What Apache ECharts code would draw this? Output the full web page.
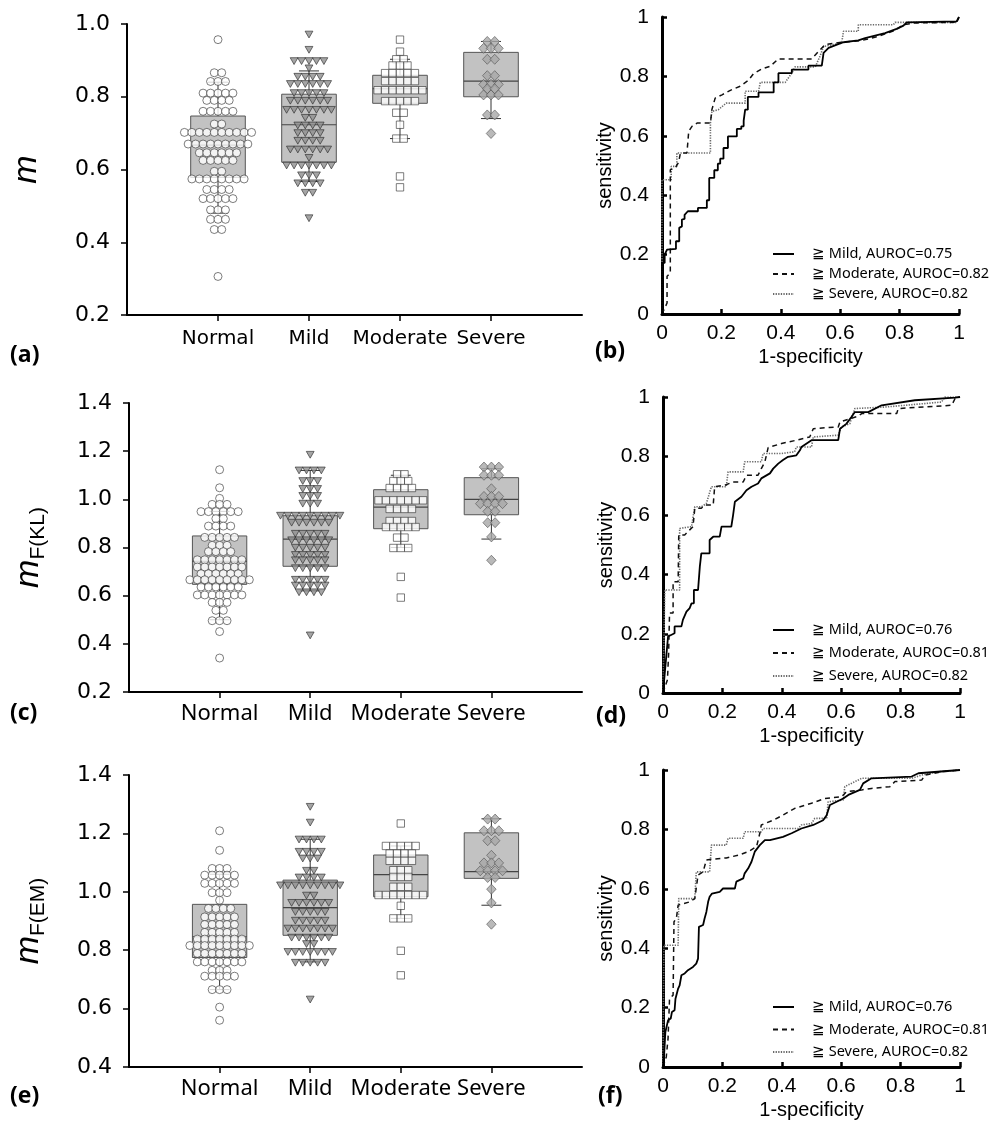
<!DOCTYPE html>
<html><head><meta charset="utf-8">
<script src="https://cdn.jsdelivr.net/npm/echarts@6/dist/echarts.min.js"></script>
<style>html,body{margin:0;padding:0;background:#fff}#c{width:990px;height:1124px}</style>
</head><body><div id="c"></div><script>
// ---------------- DATA ----------------
const groups = ['Normal', 'Mild', 'Moderate', 'Severe'];

// dot rows: [value, number of subjects at that value]
// panel (a): m
const aNormal = [[0.957,1],[0.866,2],[0.842,3],[0.810,5],[0.790,4],[0.760,5],[0.725,2],[0.702,10],[0.670,9],[0.646,6],[0.625,5],[0.595,2],[0.574,8],[0.545,4],[0.520,5],[0.489,3],[0.463,3],[0.435,2],[0.306,1]];
const aMild = [[0.971,1],[0.929,1],[0.898,5],[0.878,1],[0.855,4],[0.835,6],[0.810,5],[0.789,6],[0.764,7],[0.742,2],[0.721,4],[0.700,4],[0.679,4],[0.655,6],[0.632,1],[0.611,7],[0.584,3],[0.562,4],[0.536,2],[0.466,1]];
const aModerate = [[0.957,1],[0.924,1],[0.903,2],[0.886,3],[0.865,5],[0.843,5],[0.818,7],[0.788,5],[0.756,2],[0.723,1],[0.685,2],[0.581,1],[0.551,1]];
const aSevere = [[0.952,2],[0.933,3],[0.903,2],[0.858,2],[0.834,3],[0.822,2],[0.805,3],[0.750,2],[0.699,1]];
// box stats: [low whisker, Q1, median, Q3, high whisker]
const aBox = [[0.48,0.578,0.667,0.747,0.84],[0.567,0.620,0.723,0.807,0.871],[0.685,0.782,0.822,0.859,0.903],[0.740,0.800,0.843,0.922,0.952]];

// panel (c): mF(KL)
const cNormal = [[1.123,1],[1.048,1],[1.004,1],[0.979,3],[0.949,6],[0.920,2],[0.889,4],[0.842,5],[0.809,3],[0.783,4],[0.749,7],[0.719,7],[0.691,6],[0.666,9],[0.636,6],[0.603,7],[0.572,3],[0.539,2],[0.496,3],[0.451,1],[0.341,1]];
const cMild = [[1.185,1],[1.120,4],[1.076,3],[1.043,3],[1.014,3],[0.982,3],[0.932,9],[0.903,6],[0.857,5],[0.830,6],[0.799,5],[0.769,5],[0.747,5],[0.714,5],[0.666,5],[0.642,5],[0.614,4],[0.435,1]];
const cModerate = [[1.104,2],[1.076,3],[1.047,4],[0.996,7],[0.960,4],[0.910,4],[0.885,5],[0.841,2],[0.798,3],[0.678,1],[0.592,1]];
const cSevere = [[1.134,3],[1.100,3],[1.044,1],[1.012,3],[0.982,4],[0.950,2],[0.903,2],[0.844,1],[0.747,1]];
const cBox = [[0.50,0.647,0.742,0.848,0.95],[0.62,0.722,0.835,0.932,1.12],[0.80,0.878,0.968,1.040,1.10],[0.835,0.936,1.000,1.090,1.127]];

// panel (e): mF(EM)
const eNormal = [[1.209,1],[1.142,1],[1.080,3],[1.057,5],[1.029,5],[0.997,3],[0.971,1],[0.943,4],[0.914,5],[0.888,5],[0.861,5],[0.838,7],[0.816,9],[0.789,7],[0.760,7],[0.731,3],[0.711,5],[0.665,3],[0.605,1],[0.560,1]];
const eMild = [[1.291,1],[1.237,1],[1.179,4],[1.137,4],[1.114,3],[1.072,2],[1.049,4],[1.022,9],[0.987,2],[0.962,6],[0.931,5],[0.901,5],[0.874,7],[0.843,6],[0.821,2],[0.794,7],[0.757,5],[0.631,1]];
const eModerate = [[1.234,1],[1.157,5],[1.131,4],[1.106,4],[1.074,3],[1.051,3],[1.017,3],[0.989,7],[0.952,1],[0.909,3],[0.798,1],[0.714,1]];
const eSevere = [[1.249,2],[1.209,3],[1.175,2],[1.125,1],[1.099,3],[1.072,4],[1.049,2],[1.009,1],[0.962,1],[0.889,1]];
const eBox = [[0.665,0.775,0.846,0.957,1.06],[0.76,0.851,0.946,1.040,1.18],[0.909,0.983,1.059,1.126,1.157],[0.954,1.046,1.069,1.202,1.25]];

// ROC curves [1-specificity, sensitivity]
const bMild = [[0,0],[0,0.172],[0.009,0.172],[0.009,0.2],[0.017,0.217],[0.047,0.219],[0.047,0.245],[0.058,0.245],[0.058,0.29],[0.067,0.295],[0.067,0.318],[0.076,0.32],[0.076,0.334],[0.087,0.346],[0.121,0.346],[0.121,0.357],[0.151,0.357],[0.151,0.383],[0.159,0.383],[0.159,0.458],[0.176,0.458],[0.176,0.484],[0.188,0.484],[0.188,0.506],[0.196,0.506],[0.196,0.523],[0.207,0.523],[0.207,0.559],[0.222,0.559],[0.222,0.598],[0.252,0.598],[0.252,0.623],[0.267,0.623],[0.267,0.632],[0.275,0.632],[0.275,0.651],[0.28,0.651],[0.28,0.688],[0.289,0.688],[0.289,0.731],[0.325,0.731],[0.325,0.746],[0.376,0.746],[0.376,0.78],[0.392,0.78],[0.392,0.811],[0.437,0.811],[0.437,0.823],[0.493,0.823],[0.493,0.836],[0.538,0.836],[0.544,0.879],[0.561,0.896],[0.589,0.907],[0.611,0.915],[0.661,0.921],[0.684,0.929],[0.751,0.946],[0.79,0.96],[0.813,0.971],[0.824,0.982],[0.992,0.985],[1,1]];
const bModerate = [[0,0],[0.017,0.037],[0.017,0.127],[0.028,0.138],[0.028,0.486],[0.045,0.492],[0.056,0.511],[0.062,0.542],[0.084,0.542],[0.09,0.615],[0.101,0.632],[0.118,0.643],[0.163,0.643],[0.168,0.688],[0.179,0.727],[0.202,0.738],[0.23,0.753],[0.263,0.767],[0.291,0.787],[0.308,0.809],[0.336,0.825],[0.364,0.834],[0.392,0.859],[0.504,0.859],[0.527,0.884],[0.549,0.907],[0.605,0.915],[0.673,0.921],[0.729,0.935],[0.785,0.955],[0.813,0.974],[0.852,0.98],[0.992,0.982],[1,1]];
const bSevere = [[0,0],[0,0.452],[0.031,0.452],[0.031,0.497],[0.05,0.497],[0.05,0.542],[0.163,0.542],[0.163,0.643],[0.168,0.682],[0.19,0.688],[0.216,0.71],[0.28,0.71],[0.28,0.75],[0.325,0.75],[0.331,0.78],[0.415,0.78],[0.437,0.811],[0.448,0.832],[0.516,0.832],[0.532,0.868],[0.544,0.901],[0.605,0.912],[0.611,0.952],[0.661,0.952],[0.661,0.974],[0.779,0.974],[0.785,0.982],[0.992,0.982],[1,1]];

const dMild = [[0,0],[0.011,0.124],[0.017,0.191],[0.039,0.202],[0.039,0.225],[0.062,0.225],[0.067,0.247],[0.079,0.275],[0.09,0.287],[0.096,0.303],[0.104,0.303],[0.104,0.348],[0.118,0.348],[0.124,0.427],[0.129,0.472],[0.157,0.472],[0.157,0.517],[0.169,0.528],[0.191,0.528],[0.197,0.562],[0.23,0.562],[0.236,0.601],[0.242,0.646],[0.264,0.663],[0.281,0.685],[0.298,0.697],[0.32,0.708],[0.331,0.725],[0.36,0.742],[0.371,0.758],[0.388,0.775],[0.404,0.787],[0.421,0.798],[0.449,0.803],[0.461,0.82],[0.466,0.831],[0.5,0.854],[0.59,0.854],[0.596,0.893],[0.618,0.91],[0.635,0.933],[0.646,0.949],[0.691,0.949],[0.736,0.972],[0.848,0.989],[0.983,0.998],[1,1]];
const dModerate = [[0,0],[0.015,0.045],[0.019,0.135],[0.022,0.27],[0.034,0.27],[0.034,0.376],[0.051,0.376],[0.053,0.534],[0.073,0.534],[0.09,0.551],[0.101,0.562],[0.107,0.624],[0.129,0.624],[0.14,0.635],[0.169,0.635],[0.174,0.697],[0.208,0.702],[0.236,0.713],[0.27,0.713],[0.281,0.736],[0.32,0.736],[0.331,0.758],[0.343,0.781],[0.354,0.829],[0.399,0.843],[0.449,0.854],[0.494,0.865],[0.506,0.893],[0.59,0.899],[0.596,0.916],[0.657,0.935],[0.669,0.944],[0.787,0.944],[0.792,0.961],[0.972,0.972],[0.983,0.994],[1,1]];
const dSevere = [[0,0],[0.006,0.348],[0.056,0.348],[0.056,0.556],[0.096,0.562],[0.107,0.629],[0.129,0.629],[0.146,0.64],[0.163,0.697],[0.213,0.697],[0.219,0.747],[0.27,0.747],[0.275,0.781],[0.331,0.781],[0.337,0.809],[0.399,0.809],[0.443,0.815],[0.449,0.831],[0.5,0.831],[0.506,0.865],[0.59,0.871],[0.601,0.899],[0.629,0.91],[0.646,0.961],[0.747,0.966],[0.815,0.972],[0.938,0.983],[0.949,1],[1,1]];

const fMild = [[0,0],[0.003,0.028],[0.008,0.118],[0.017,0.157],[0.026,0.163],[0.03,0.185],[0.039,0.191],[0.042,0.23],[0.051,0.264],[0.056,0.275],[0.062,0.309],[0.073,0.315],[0.084,0.326],[0.101,0.337],[0.112,0.348],[0.118,0.365],[0.121,0.472],[0.135,0.478],[0.14,0.5],[0.146,0.522],[0.152,0.556],[0.157,0.573],[0.165,0.584],[0.191,0.59],[0.202,0.601],[0.242,0.601],[0.247,0.624],[0.27,0.635],[0.275,0.652],[0.287,0.669],[0.298,0.691],[0.309,0.725],[0.326,0.747],[0.343,0.764],[0.36,0.764],[0.404,0.775],[0.433,0.787],[0.466,0.803],[0.506,0.815],[0.539,0.831],[0.551,0.848],[0.562,0.882],[0.607,0.904],[0.624,0.916],[0.663,0.933],[0.674,0.955],[0.702,0.972],[0.837,0.978],[0.86,0.989],[1,1]];
const fModerate = [[0,0],[0.011,0.034],[0.017,0.096],[0.022,0.23],[0.034,0.242],[0.037,0.489],[0.045,0.5],[0.051,0.545],[0.09,0.556],[0.107,0.567],[0.118,0.646],[0.135,0.657],[0.146,0.697],[0.169,0.7],[0.213,0.704],[0.253,0.713],[0.287,0.725],[0.315,0.742],[0.326,0.787],[0.331,0.815],[0.371,0.831],[0.404,0.848],[0.444,0.871],[0.5,0.888],[0.545,0.904],[0.601,0.91],[0.618,0.927],[0.669,0.933],[0.702,0.938],[0.764,0.944],[0.781,0.961],[0.871,0.966],[0.882,0.983],[0.938,0.994],[1,1]];
const fSevere = [[0,0],[0.003,0.41],[0.051,0.41],[0.053,0.567],[0.107,0.567],[0.112,0.657],[0.157,0.657],[0.163,0.747],[0.213,0.747],[0.219,0.77],[0.27,0.77],[0.275,0.792],[0.331,0.792],[0.337,0.803],[0.455,0.803],[0.466,0.815],[0.5,0.82],[0.511,0.837],[0.551,0.837],[0.556,0.893],[0.607,0.899],[0.612,0.944],[0.669,0.972],[0.837,0.972],[0.871,0.983],[0.927,0.994],[1,1]];

const bNames = ['≧ Mild, AUROC=0.75', '≧ Moderate, AUROC=0.82', '≧ Severe, AUROC=0.82'];
const dNames = ['≧ Mild, AUROC=0.76', '≧ Moderate, AUROC=0.81', '≧ Severe, AUROC=0.82'];
const fNames = ['≧ Mild, AUROC=0.76', '≧ Moderate, AUROC=0.81', '≧ Severe, AUROC=0.82'];

// ---------------- BUILD ----------------
const chart = echarts.init(document.getElementById('c'), null, {renderer: 'canvas'});
const SP = 0.082; // horizontal spacing between dots in a row (axis units)
function swarm(rows, cat) {
  const pts = [];
  rows.forEach(([v, n]) => { for (let i = 0; i < n; i++) pts.push([cat + (i - (n - 1) / 2) * SP, v]); });
  return pts;
}
const markerStyles = [
  {symbol: 'circle', symbolSize: 8, symbolRotate: 0, itemStyle: {color: '#fff', borderColor: '#333', borderWidth: 0.8}},
  {symbol: 'triangle', symbolSize: [7.8, 6.8], symbolRotate: 180, itemStyle: {color: '#8f8f8f', borderColor: '#2a2a2a', borderWidth: 0.8}},
  {symbol: 'rect', symbolSize: 7.4, symbolRotate: 0, itemStyle: {color: '#fff', borderColor: '#333', borderWidth: 0.8}},
  {symbol: 'diamond', symbolSize: [9.5, 10], symbolRotate: 0, itemStyle: {color: '#a8a8a8', borderColor: '#555', borderWidth: 0.8}}
];

const grids = [
  {left: 127, top: 24, width: 455, height: 291},
  {left: 662, top: 17, width: 297, height: 297},
  {left: 129, top: 403, width: 453, height: 289},
  {left: 663, top: 397, width: 297, height: 296},
  {left: 129, top: 775, width: 453, height: 292},
  {left: 663, top: 770, width: 297, height: 297}
];

const xAxes = [], yAxes = [], series = [];

function boxPanel(gi, yMin, yMax, nameRich, catFont, catSize, catMargin, rows, boxes, nameGap) {
  xAxes.push({
    gridIndex: gi, type: 'value', min: 0, max: 5, interval: 1,
    axisLine: {show: true, onZero: false, lineStyle: {color: '#000', width: 2}},
    axisTick: {show: true, customValues: [1, 2, 3, 4], length: 6, lineStyle: {color: '#000', width: 1.5}},
    axisLabel: {customValues: [1, 2, 3, 4], formatter: v => groups[Math.round(v) - 1] || '', color: '#000', fontFamily: catFont, fontSize: catSize, margin: catMargin},
    splitLine: {show: false}
  });
  yAxes.push({
    gridIndex: gi, type: 'value', min: yMin, max: yMax, interval: 0.2,
    axisLine: {show: true, onZero: false, lineStyle: {color: '#000', width: 2}},
    axisTick: {show: true, length: 6, lineStyle: {color: '#000', width: 1.5}},
    axisLabel: {formatter: v => v.toFixed(1), color: '#000', fontFamily: 'DejaVu Sans', fontSize: 22, margin: 17},
    splitLine: {show: false},
    name: nameRich, nameLocation: 'middle', nameGap: nameGap,
    nameTextStyle: {color: '#000', rich: {
      m: {fontSize: 34, fontStyle: 'italic', fontFamily: 'Liberation Sans', lineHeight: 40, color: '#000'},
      s: {fontSize: 21, fontFamily: 'Liberation Sans', lineHeight: 22, verticalAlign: 'bottom', color: '#000'}
    }}
  });
  series.push({
    type: 'custom', xAxisIndex: gi, yAxisIndex: gi, z: 1, silent: true, clip: false,
    data: boxes.map((b, i) => [i + 1].concat(b)),
    encode: {x: 0, y: [1, 2, 3, 4, 5]},
    renderItem: (params, api) => {
      const x = api.value(0);
      const pLo = api.coord([x, api.value(1)]), pQ1 = api.coord([x, api.value(2)]);
      const pMd = api.coord([x, api.value(3)]), pQ3 = api.coord([x, api.value(4)]);
      const pHi = api.coord([x, api.value(5)]);
      const w = api.size([0.6, 0])[0], cw = api.size([0.22, 0])[0], cx = pLo[0];
      const ls = {stroke: '#333', lineWidth: 1};
      return {type: 'group', children: [
        {type: 'line', shape: {x1: cx, y1: pLo[1], x2: cx, y2: pQ1[1]}, style: ls},
        {type: 'line', shape: {x1: cx, y1: pQ3[1], x2: cx, y2: pHi[1]}, style: ls},
        {type: 'line', shape: {x1: cx - cw / 2, y1: pLo[1], x2: cx + cw / 2, y2: pLo[1]}, style: ls},
        {type: 'line', shape: {x1: cx - cw / 2, y1: pHi[1], x2: cx + cw / 2, y2: pHi[1]}, style: ls},
        {type: 'rect', shape: {x: cx - w / 2, y: pQ3[1], width: w, height: pQ1[1] - pQ3[1]}, style: {fill: '#c2c2c2', stroke: '#555', lineWidth: 1}},
        {type: 'line', shape: {x1: cx - w / 2, y1: pMd[1], x2: cx + w / 2, y2: pMd[1]}, style: {stroke: '#444', lineWidth: 1.2}}
      ]};
    }
  });
  rows.forEach((r, k) => {
    const ms = markerStyles[k];
    series.push(Object.assign({
      type: 'scatter', xAxisIndex: gi, yAxisIndex: gi, z: 3, silent: true,
      data: swarm(r, k + 1), emphasis: {disabled: true}
    }, ms));
  });
}

function rocPanel(gi, curves, names) {
  xAxes.push({
    gridIndex: gi, type: 'value', min: 0, max: 1, interval: 0.2,
    axisLine: {show: true, onZero: false, lineStyle: {color: '#000', width: 3}},
    axisTick: {show: true, inside: true, length: 5, lineStyle: {color: '#000', width: 2.5}},
    axisLabel: {color: '#000', fontFamily: 'Liberation Sans', fontSize: 21, margin: 9},
    splitLine: {show: false},
    name: '1-specificity', nameLocation: 'middle', nameGap: 33,
    nameTextStyle: {color: '#000', fontFamily: 'Liberation Sans', fontSize: 20}
  });
  yAxes.push({
    gridIndex: gi, type: 'value', min: 0, max: 1, interval: 0.2,
    axisLine: {show: true, onZero: false, lineStyle: {color: '#000', width: 3}},
    axisTick: {show: true, inside: true, length: 5, lineStyle: {color: '#000', width: 2.5}},
    axisLabel: {color: '#000', fontFamily: 'Liberation Sans', fontSize: 21, margin: 13},
    splitLine: {show: false},
    name: 'sensitivity', nameLocation: 'middle', nameGap: 32,
    nameTextStyle: {color: '#000', fontFamily: 'Liberation Sans', fontSize: 20}
  });
  const styles = [
    {color: '#000', width: 1.8, type: 'solid'},
    {color: '#111', width: 1.5, type: [5, 4]},
    {color: '#6a6a6a', width: 1.6, type: [1.3, 1.3]}
  ];
  curves.forEach((c, k) => {
    series.push({
      type: 'line', name: names[k], xAxisIndex: gi, yAxisIndex: gi, data: c,
      symbol: 'none', showSymbol: false, silent: true, z: 2 + (2 - k),
      lineStyle: styles[k], itemStyle: {color: styles[k].color}, emphasis: {disabled: true}
    });
  });
}

boxPanel(0, 0.2, 1.0, '{m|m}', 'DejaVu Sans', 20, 14, [aNormal, aMild, aModerate, aSevere], aBox, 80);
rocPanel(1, [bMild, bModerate, bSevere], bNames);
boxPanel(2, 0.2, 1.4, '{m|m}{s|F(KL)}', 'Noto Sans', 22, 11, [cNormal, cMild, cModerate, cSevere], cBox, 80);
rocPanel(3, [dMild, dModerate, dSevere], dNames);
boxPanel(4, 0.4, 1.4, '{m|m}{s|F(EM)}', 'Noto Sans', 22, 11, [eNormal, eMild, eModerate, eSevere], eBox, 80);
rocPanel(5, [fMild, fModerate, fSevere], fNames);

function legendAt(top, names, gap) {
  return {
    data: names, orient: 'vertical', left: 772, top: top, itemWidth: 21, itemHeight: 10, itemGap: gap,
    selectedMode: false, padding: 0,
    itemStyle: {opacity: 0},
    textStyle: {fontFamily: 'Noto Sans', fontSize: 14.5, color: '#000', lineHeight: 16, padding: [0, 0, 0, 13]}
  };
}

const labelStyle = {fontFamily: 'Open Sans', fontWeight: 'bold', fontSize: 23, color: '#000'};
const panelLabels = [['(a)', 10, 344], ['(b)', 595, 340], ['(c)', 10, 702], ['(d)', 596, 705], ['(e)', 10, 1085], ['(f)', 598, 1085]];

chart.setOption({
  animation: false,
  backgroundColor: '#fff',
  title: panelLabels.map(([t, l, tp]) => ({text: t, left: l, top: tp, padding: 0, textStyle: labelStyle})),
  grid: grids,
  xAxis: xAxes,
  yAxis: yAxes,
  legend: [legendAt(246, bNames, 4), legendAt(622, dNames, 7), legendAt(999, fNames, 6.5)],
  series: series
});
</script></body></html>
